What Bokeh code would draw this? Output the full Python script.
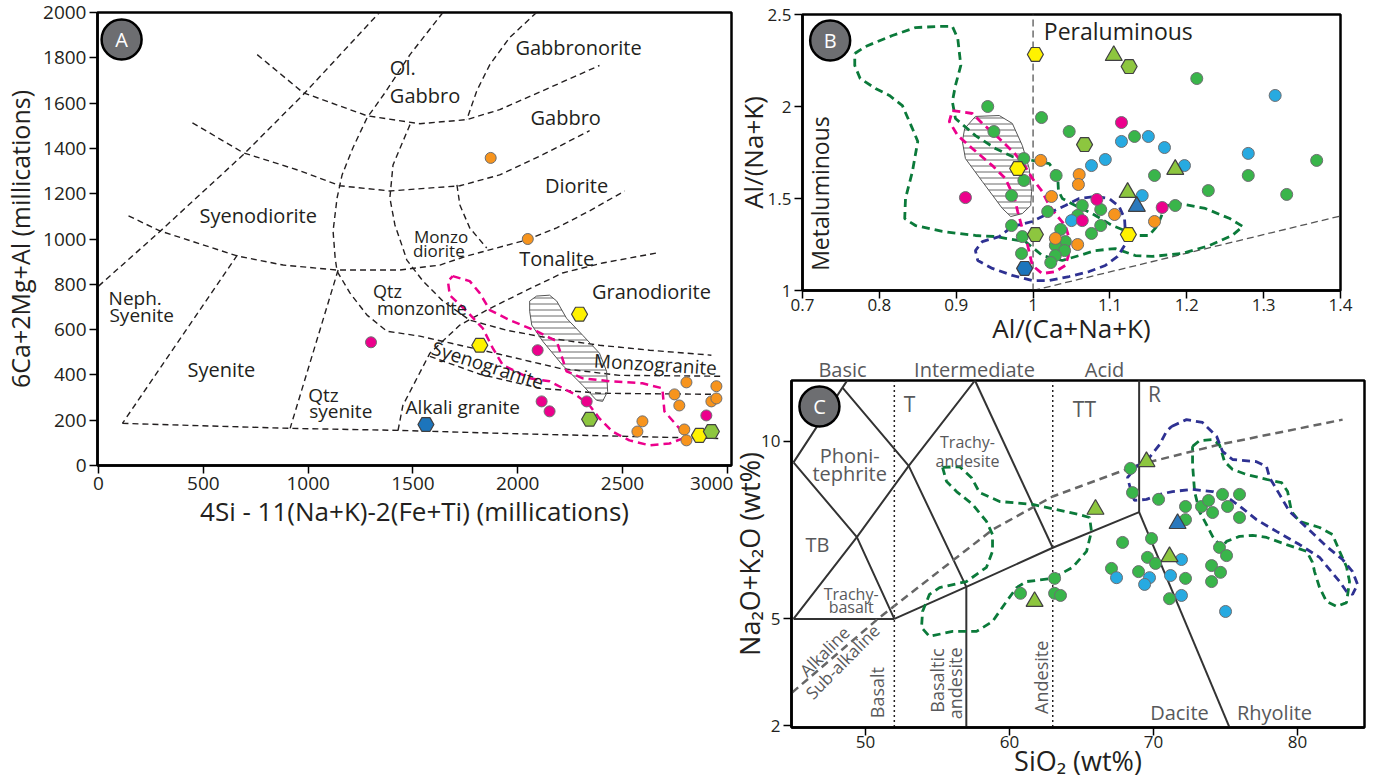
from math import pi
from bokeh.plotting import figure
from bokeh.layouts import row, column
from bokeh.models import Label, Range1d, FixedTicker, LinearAxis
from bokeh.embed import file_html
from bokeh.resources import INLINE

FONT = "Open Sans"
INK = "#231f20"
GTXT = "#58595b"
ORANGE = "#F7941D"; MAGENTA = "#EC008C"; YELLOW = "#FFF200"; LIME = "#8DC63F"
BLUEHEX = "#1C75BC"; GREEN = "#39B54A"; CYAN = "#27AAE1"; BLUETRI = "#2B79BD"
DKGREEN = "#0B7A3A"; NAVY = "#2E3192"

# ================= Panel A data (R1-R2 diagram, millications) =================
A_orange_x = [1871, 2048, 2805, 2948, 2748, 2771, 2924, 2948, 2595, 2571, 2795, 2805]
A_orange_y = [1358, 1000, 367, 350, 314, 265, 283, 296, 195, 150, 159, 111]
A_magenta_x = [1300, 2095, 2114, 2152, 2329, 2900]
A_magenta_y = [544, 509, 283, 239, 283, 221]
A_yellow_x = [2295, 1819, 2867]
A_yellow_y = [668, 531, 133]
A_lime_x = [2343, 2924]
A_lime_y = [204, 150]
A_blue_x = [1562]
A_blue_y = [181]

A_L1_x = [0, 295, 690, 976, 1340]
A_L1_y = [792, 1035, 1372, 1637, 2000]
A_L2_x = [757, 976, 1281, 1533, 1757, 1914, 2152, 2390]
A_L2_y = [1814, 1646, 1544, 1509, 1527, 1571, 1668, 1766]
A_L3_x = [448, 690, 962, 1152, 1390, 1724, 1914, 2119, 2343]
A_L3_y = [1513, 1381, 1301, 1235, 1212, 1235, 1283, 1372, 1478]
A_L4_x = [143, 295, 662, 881, 1138, 1438, 1629, 1757, 2043, 2186, 2343, 2510]
A_L4_y = [1102, 1035, 925, 885, 863, 863, 885, 925, 996, 1049, 1124, 1212]
A_L7_x = [1710, 1724, 1771, 1852]
A_L7_y = [1239, 1150, 1049, 960]
A_L8_x = [1486, 1405, 1390, 1414, 1452, 1471, 1548, 1643, 1771, 1948, 2152, 2390, 2629, 2924]
A_L8_y = [1505, 1327, 1181, 1062, 960, 907, 814, 726, 642, 597, 562, 531, 509, 487]
A_L9_x = [2090, 1962, 1867, 1805, 1757]
A_L9_y = [2000, 1890, 1770, 1655, 1527]
A_L10_x = [1643, 1486, 1367, 1281, 1214, 1162, 1138, 1119, 1129, 1138, 1200, 1281, 1376, 1533, 1724, 1914, 2200, 2486, 2976]
A_L10_y = [2000, 1814, 1646, 1535, 1403, 1283, 1181, 1035, 916, 858, 761, 664, 593, 571, 531, 491, 429, 398, 394]
A_R_x = [1581, 1819, 2105, 2390, 2962]
A_R_y = [482, 403, 341, 319, 314]
A_L11_x = [1429, 1452, 1519, 1581, 1724, 1852, 2043, 2214, 2405, 2662]
A_L11_y = [155, 265, 385, 496, 620, 686, 774, 850, 894, 938]
A_QS_x = [1143, 914]
A_QS_y = [863, 164]
A_SN_x = [662, 114]
A_SN_y = [929, 186]
A_base_x = [114, 914, 1438, 1914, 2962]
A_base_y = [186, 164, 155, 142, 119]

A_pink_x = [1690, 1771, 1819, 1867, 1962, 2090, 2186, 2233, 2310, 2438, 2595, 2690, 2700, 2771, 2786,
            2724, 2629, 2533, 2452, 2390, 2343, 2281, 2152, 2057, 1929, 1881, 1833, 1757, 1676, 1667, 1690]
A_pink_y = [836, 814, 761, 686, 642, 593, 549, 416, 385, 372, 363, 341, 239, 164, 119,
            97, 89, 111, 150, 208, 265, 310, 372, 385, 443, 518, 606, 681, 752, 814, 836]
A_hatch_x = [2057, 2090, 2152, 2186, 2233, 2310, 2390, 2424, 2429, 2405, 2376, 2310, 2214, 2119, 2067, 2057]
A_hatch_y = [726, 748, 752, 726, 650, 575, 496, 416, 327, 283, 288, 354, 443, 549, 620, 681]

# centred field names
A_text = ["Gabbronorite", "Gabbro", "Diorite", "Syenodiorite", "Tonalite", "Granodiorite", "Syenite",
          "Alkali granite"]
A_text_x = [2290, 2229, 2281, 762, 2186, 2638, 586, 1738]
A_text_y = [1845, 1535, 1235, 1102, 915, 770, 425, 257]
A_text_size = [20, 20, 20, 20, 20, 20, 20, 19]
# left-aligned two-line field names
A_left_text = ["Ol.", "Gabbro", "Monzo", "diorite", "Neph.", "Syenite", "Qtz", "monzonite", "Qtz", "syenite"]
A_left_x = [1390, 1390, 1505, 1500, 48, 52, 1310, 1328, 1000, 1005]
A_left_y = [1757, 1633, 1013, 951, 739, 664, 770, 695, 310, 239]
A_left_size = [20, 20, 17, 17, 19, 19, 18, 18, 19, 19]
A_rot_text = ["Syenogranite", "Monzogranite"]
A_rot_x = [1857, 2657]
A_rot_y = [443, 447]
A_rot_angle = [-0.31, -0.06]

# ================= Panel B data (A/NK vs A/CNK) =================
B_green_x = [0.941, 1.011, 0.949, 1.047, 0.988, 0.988, 1.030, 0.972, 1.019, 1.064, 1.088, 1.058, 0.972, 1.088,
             1.076, 1.036, 0.986, 1.042, 1.029, 1.041, 1.029, 1.023, 0.985, 1.132, 1.158, 1.280, 1.213, 1.369,
             1.228, 1.330, 1.185]
B_green_y = [2.000, 1.940, 1.864, 1.864, 1.717, 1.598, 1.625, 1.516, 1.429, 1.462, 1.440, 1.408, 1.353, 1.353,
             1.310, 1.332, 1.293, 1.266, 1.245, 1.217, 1.190, 1.152, 1.201, 1.837, 1.625, 1.625, 2.152, 1.707,
             1.543, 1.522, 1.462]
B_cyan_x = [1.115, 1.094, 1.076, 1.050, 1.150, 1.171, 1.280, 1.197, 1.142, 1.315]
B_cyan_y = [1.810, 1.712, 1.679, 1.380, 1.837, 1.777, 1.745, 1.679, 1.516, 2.060]
B_orange_x = [1.010, 1.024, 1.029, 1.060, 1.059, 1.106, 1.058, 1.158]
B_orange_y = [1.707, 1.511, 1.283, 1.630, 1.576, 1.413, 1.250, 1.375]
B_magenta_x = [0.912, 1.115, 1.083, 1.064, 1.168]
B_magenta_y = [1.505, 1.913, 1.495, 1.380, 1.451]
B_yellow_x = [1.003, 0.980, 1.124]
B_yellow_y = [2.283, 1.663, 1.304]
B_lime_hex_x = [1.003, 1.067, 1.125]
B_lime_hex_y = [1.304, 1.793, 2.217]
B_blue_hex_x = [0.989]
B_blue_hex_y = [1.120]
B_lime_tri_x = [1.105, 1.123, 1.185]
B_lime_tri_y = [2.277, 1.533, 1.658]
B_blue_tri_x = [1.135]
B_blue_tri_y = [1.457]

B_gc_x = [0.768, 0.782, 0.817, 0.847, 0.878, 0.895, 0.902, 0.906, 0.899, 0.895, 0.899, 0.925, 0.951, 0.973,
          0.999, 1.021, 1.032, 1.033, 1.038, 1.055, 1.077, 1.103, 1.119, 1.136, 1.151, 1.162, 1.172, 1.184,
          1.198, 1.224, 1.256, 1.273, 1.259, 1.230, 1.194, 1.155, 1.133, 1.107, 1.081, 1.060, 1.038, 1.012,
          0.990, 0.951, 0.925, 0.882, 0.847, 0.833, 0.834, 0.843, 0.850, 0.843, 0.830, 0.813, 0.795, 0.775,
          0.768, 0.768]
B_gc_y = [2.288, 2.326, 2.386, 2.429, 2.435, 2.435, 2.370, 2.223, 2.114, 2.027, 1.935, 1.842, 1.772, 1.728,
          1.707, 1.690, 1.625, 1.543, 1.500, 1.462, 1.418, 1.353, 1.326, 1.299, 1.299, 1.353, 1.457, 1.473,
          1.467, 1.446, 1.391, 1.348, 1.299, 1.245, 1.201, 1.185, 1.190, 1.228, 1.217, 1.190, 1.163, 1.190,
          1.266, 1.293, 1.299, 1.321, 1.353, 1.391, 1.500, 1.647, 1.810, 1.880, 2.005, 2.060, 2.098, 2.152,
          2.223, 2.288]
B_pc_x = [0.895, 0.921, 0.934, 0.956, 0.976, 0.989, 0.999, 1.012, 1.021, 1.032, 1.042, 1.047, 1.046, 1.042,
          1.029, 1.012, 0.999, 0.993, 0.986, 0.980, 0.976, 0.964, 0.947, 0.921, 0.902, 0.891, 0.895]
B_pc_y = [1.978, 1.962, 1.908, 1.826, 1.745, 1.679, 1.609, 1.538, 1.462, 1.402, 1.353, 1.283, 1.190, 1.136,
          1.103, 1.092, 1.136, 1.245, 1.337, 1.429, 1.500, 1.609, 1.679, 1.772, 1.842, 1.918, 1.978]
B_nc_x = [0.973, 0.999, 1.025, 1.042, 1.060, 1.081, 1.099, 1.112, 1.119, 1.120, 1.119, 1.110, 1.094, 1.073,
          1.047, 1.021, 0.999, 0.973, 0.947, 0.928, 0.925, 0.934, 0.956, 0.973]
B_nc_y = [1.348, 1.375, 1.429, 1.462, 1.500, 1.511, 1.500, 1.457, 1.391, 1.321, 1.245, 1.185, 1.136, 1.103,
          1.076, 1.054, 1.054, 1.082, 1.120, 1.163, 1.217, 1.266, 1.293, 1.348]
B_hatch_x = [0.911, 0.925, 0.956, 0.973, 0.986, 0.995, 0.998, 0.997, 0.986, 0.971, 0.960, 0.934, 0.912, 0.908]
B_hatch_y = [1.880, 1.946, 1.951, 1.908, 1.788, 1.663, 1.538, 1.462, 1.418, 1.402, 1.446, 1.592, 1.717, 1.810]
B_div_x = [1.0, 1.0]
B_div_y = [1.0, 2.5]
B_diag_x = [1.0, 1.4]
B_diag_y = [1.0, 1.405]

# ================= Panel C data (TAS) =================
C_green_x = [68.40, 68.54, 70.35, 72.22, 72.22, 73.33, 73.82, 74.10, 74.79, 75.14, 75.97, 75.97, 67.85, 69.86,
             69.58, 70.14, 67.08, 68.96, 74.58, 75.07, 74.03, 74.65, 72.22, 74.03, 71.11, 63.13, 60.76, 63.13, 63.54]
C_green_y = [9.23, 8.55, 8.36, 8.16, 7.79, 8.16, 8.33, 7.99, 8.50, 8.16, 8.50, 7.85, 7.15, 7.26,
             6.73, 6.56, 6.42, 6.33, 7.01, 6.78, 6.50, 6.31, 6.14, 6.05, 5.57, 6.14, 5.72, 5.72, 5.66]
C_cyan_x = [67.43, 69.72, 69.38, 71.18, 71.94, 71.94, 75.00]
C_cyan_y = [6.16, 6.16, 5.97, 6.22, 6.67, 5.66, 5.21]
C_lime_tri_x = [69.51, 65.97, 71.11, 61.74]
C_lime_tri_y = [9.42, 8.08, 6.75, 5.49]
C_blue_tri_x = [71.67]
C_blue_tri_y = [7.68]

C_gl_x = [55.35, 56.53, 57.36, 57.92, 59.31, 61.60, 64.86, 65.56, 65.69, 65.35, 64.38, 62.99, 61.18, 60.49,
          59.79, 58.82, 57.71, 56.04, 54.44, 53.89, 53.96, 54.44, 55.14, 57.01, 58.40, 58.82, 58.82, 58.40,
          57.43, 56.32, 55.63, 55.35]
C_gl_y = [9.26, 9.28, 8.97, 8.55, 8.30, 8.22, 7.93, 7.85, 7.46, 6.90, 6.45, 6.14, 6.05, 5.88,
          5.49, 4.93, 4.65, 4.65, 4.51, 4.76, 5.21, 5.69, 5.88, 6.05, 6.45, 6.90, 7.37, 7.74,
          8.22, 8.58, 8.86, 9.26]
C_gr_x = [72.71, 73.19, 74.10, 74.58, 74.93, 75.49, 76.46, 77.85, 78.89, 79.31, 79.58, 80.14, 81.53, 82.43,
          82.92, 83.40, 83.61, 83.40, 82.71, 82.01, 81.53, 81.18, 81.04, 80.63, 79.24, 77.85, 76.88, 75.97,
          75.07, 74.72, 74.10, 73.68, 73.19, 72.85, 72.71, 72.71]
C_gr_y = [9.85, 10.01, 10.04, 9.90, 9.42, 9.20, 9.06, 8.92, 8.83, 8.58, 8.02, 7.74, 7.57, 7.37,
          6.90, 6.47, 6.05, 5.46, 5.35, 5.49, 5.88, 6.33, 6.59, 6.90, 7.09, 7.29, 7.35, 7.32,
          7.18, 7.01, 7.32, 7.65, 8.02, 8.58, 9.34, 9.85]
C_nv_x = [71.25, 72.29, 73.40, 74.38, 74.79, 75.49, 77.15, 77.85, 78.06, 78.75, 79.44, 80.63, 82.01, 83.13,
          83.82, 84.17, 83.82, 83.40, 82.92, 81.53, 80.14, 78.54, 77.15, 76.11, 75.07, 74.10, 72.71, 71.32,
          70.42, 69.51, 68.68, 68.47, 68.19, 68.82, 69.72, 70.42, 70.90, 71.25]
C_nv_y = [10.41, 10.60, 10.52, 10.13, 9.71, 9.48, 9.42, 9.28, 8.97, 8.50, 8.02, 7.57, 7.04, 6.67,
          6.33, 5.97, 5.69, 5.77, 6.05, 6.73, 7.09, 7.46, 7.79, 8.13, 8.44, 8.58, 8.64, 8.58,
          8.50, 8.36, 8.33, 8.55, 8.97, 9.28, 9.54, 9.90, 10.27, 10.41]
C_alk_x = [44.9, 50.97, 58.82, 62.99, 69.03, 74.58, 83.13]
C_alk_y = [2.93, 5.04, 7.51, 8.44, 9.34, 9.90, 10.60]

# TAS field boundaries (Le Bas et al. 1986)
C_solid_x = [[45, 52], [52, 57, 63, 69], [57, 57], [69, 77.3], [69, 69], [45, 49.4, 53, 57.6],
             [45, 48.4, 52.5], [45, 49.4, 52], [48.4, 53, 57], [57.6, 63]]
C_solid_y = [[5, 5], [5, 5.9, 7, 8], [0, 5.9], [8, 0], [8, 14], [5, 7.3, 9.3, 11.7],
             [9.4, 11.5, 14], [9.4, 7.3, 5], [11.5, 9.3, 5.9], [11.7, 7]]
C_dot_x = [[52, 52], [63, 63]]
C_dot_y = [[0, 14], [0, 14]]

C_top_text = ["Basic", "Intermediate", "Acid"]
C_top_x = [48.4, 57.57, 66.6]

C_text = ["T", "TT", "R", "Phoni-", "tephrite", "Trachy-", "andesite", "TB", "Trachy-", "basalt", "Dacite", "Rhyolite"]
C_text_x = [53.06, 65.2, 70.07, 48.9, 48.9, 57.08, 57.08, 46.67, 49.0, 49.0, 71.8, 78.4]
C_text_y = [11.03, 10.9, 11.31, 9.60, 9.10, 9.96, 9.44, 7.09, 5.69, 5.33, 2.37, 2.37]
C_text_size = [21, 21, 21, 20, 20, 16, 16, 20, 16, 16, 20, 20]
C_rot_text = ["Alkaline", "Sub-alkaline", "Basalt", "Basaltic", "andesite", "Andesite"]
C_rot_x = [47.15, 48.4, 50.83, 54.93, 56.18, 62.22]
C_rot_y = [4.09, 3.80, 2.93, 3.27, 3.19, 3.36]
C_rot_angle = [0.79, 0.79, pi / 2, pi / 2, pi / 2, pi / 2]
C_rot_size = [17, 17, 18, 18, 18, 18]


# ================= figures =================
def style(p, tick_size, label_size):
    p.grid.visible = False
    p.outline_line_color = "black"
    p.outline_line_width = 2.5
    for ax in p.axis:
        ax.axis_line_color = "black"
        ax.axis_line_width = 2.5
        ax.major_tick_line_color = "black"
        ax.major_tick_line_width = 1.5
        ax.major_tick_out = 8
        ax.major_tick_in = 0
        ax.minor_tick_line_color = None
        ax.major_label_text_font = FONT
        ax.major_label_text_font_size = f"{tick_size}px"
        ax.major_label_text_color = INK
        ax.axis_label_text_font = FONT
        ax.axis_label_text_font_style = "normal"
        ax.axis_label_text_font_size = f"{label_size}px"
        ax.axis_label_text_color = INK
        ax.major_label_standoff = 3
        ax.axis_label_standoff = 3


def lab(p, x, y, text, size=18, color=INK, angle=0.0, align="center"):
    p.add_layout(Label(x=x, y=y, text=text, text_font=FONT, text_font_size=f"{size}px",
                       text_color=color, angle=angle, text_align=align, text_baseline="middle"))


def badge(p, x, y, letter):
    p.scatter([x], [y], size=40, fill_color="#6d6e71", line_color="black", line_width=2.5)
    lab(p, x, y, letter, size=20, color="white")


# ---------- Panel A ----------
pA = figure(frame_width=634, frame_height=453, x_range=Range1d(-5, 3020), y_range=Range1d(0, 2000),
            output_backend="svg", toolbar_location=None,
            min_border_left=90, min_border_right=2, min_border_top=12, min_border_bottom=68)
style(pA, 19, 25)
pA.xaxis.axis_label_text_font_size = "26px"
pA.xaxis.axis_label_standoff = 0
pA.xaxis.ticker = FixedTicker(ticks=[0, 500, 1000, 1500, 2000, 2500, 3000])
pA.yaxis.ticker = FixedTicker(ticks=list(range(0, 2001, 200)))
pA.xaxis.axis_label = "4Si - 11(Na+K)-2(Fe+Ti) (millications)"
pA.yaxis.axis_label = "6Ca+2Mg+Al (millications)"

for lx, ly in [(A_L1_x, A_L1_y), (A_L2_x, A_L2_y), (A_L3_x, A_L3_y), (A_L4_x, A_L4_y), (A_L7_x, A_L7_y),
               (A_L8_x, A_L8_y), (A_L9_x, A_L9_y), (A_L10_x, A_L10_y), (A_R_x, A_R_y), (A_L11_x, A_L11_y),
               (A_QS_x, A_QS_y), (A_SN_x, A_SN_y), (A_base_x, A_base_y)]:
    pA.line(lx, ly, line_color="#231f20", line_width=1.4, line_dash="6 4")

pA.patch(A_hatch_x, A_hatch_y, fill_color="white", fill_alpha=0.0, hatch_pattern="horizontal_line",
         hatch_color="#444444", hatch_scale=6, hatch_weight=0.8, line_color="#555555", line_width=1)
pA.line(A_pink_x, A_pink_y, line_color=MAGENTA, line_width=2.5, line_dash="8 5")

for t, x, y, s in zip(A_text, A_text_x, A_text_y, A_text_size):
    lab(pA, x, y, t, size=s)
for t, x, y, s in zip(A_left_text, A_left_x, A_left_y, A_left_size):
    lab(pA, x, y, t, size=s, align="left")
for t, x, y, a in zip(A_rot_text, A_rot_x, A_rot_y, A_rot_angle):
    lab(pA, x, y, t, size=19, angle=a)

pA.scatter(A_orange_x, A_orange_y, size=11, fill_color=ORANGE, line_color="#6d6e71", line_width=1)
pA.scatter(A_magenta_x, A_magenta_y, size=11, fill_color=MAGENTA, line_color="#6d6e71", line_width=1)
pA.scatter(A_yellow_x, A_yellow_y, marker="hex", size=16, fill_color=YELLOW, line_color="#414042", line_width=1.2)
pA.scatter(A_lime_x, A_lime_y, marker="hex", size=16, fill_color=LIME, line_color="#414042", line_width=1.2)
pA.scatter(A_blue_x, A_blue_y, marker="hex", size=16, fill_color=BLUEHEX, line_color="#414042", line_width=1.2)
badge(pA, 110, 1881, "A")

# ---------- Panel B ----------
pB = figure(frame_width=538, frame_height=276, x_range=Range1d(0.7, 1.4), y_range=Range1d(1.0, 2.5),
            output_backend="svg", toolbar_location=None,
            min_border_left=90, min_border_right=20, min_border_top=14, min_border_bottom=40)
pB.border_fill_color = None
pB.styles = {"position": "relative", "left": "-21px"}
style(pB, 17, 26)
pB.xaxis.major_label_standoff = 0
pB.xaxis.axis_label_standoff = -4
pB.yaxis.axis_label_standoff = -6
pB.xaxis.ticker = FixedTicker(ticks=[0.7, 0.8, 0.9, 1.0, 1.1, 1.2, 1.3, 1.4])
pB.yaxis.ticker = FixedTicker(ticks=[1.0, 1.5, 2.0, 2.5])
pB.yaxis.major_label_overrides = {1: "1", 1.5: "1.5", 2: "2", 2.5: "2.5"}
pB.xaxis.axis_label = "Al/(Ca+Na+K)"
pB.yaxis.axis_label = "Al/(Na+K)"

pB.line(B_div_x, B_div_y, line_color="#555555", line_width=1.3, line_dash="7 4")
pB.line(B_diag_x, B_diag_y, line_color="#555555", line_width=1.3, line_dash="7 4")
pB.patch(B_hatch_x, B_hatch_y, fill_color="white", fill_alpha=0.0, hatch_pattern="horizontal_line",
         hatch_color="#444444", hatch_scale=6, hatch_weight=0.8, line_color="#555555", line_width=1)
pB.line(B_gc_x, B_gc_y, line_color=DKGREEN, line_width=2.8, line_dash="8 5")
pB.line(B_pc_x, B_pc_y, line_color=MAGENTA, line_width=2.8, line_dash="8 5")
pB.line(B_nc_x, B_nc_y, line_color=NAVY, line_width=2.8, line_dash="8 5")

pB.scatter(B_green_x, B_green_y, size=12, fill_color=GREEN, line_color="#6d6e71", line_width=1)
pB.scatter(B_cyan_x, B_cyan_y, size=12, fill_color=CYAN, line_color="#6d6e71", line_width=1)
pB.scatter(B_orange_x, B_orange_y, size=12, fill_color=ORANGE, line_color="#6d6e71", line_width=1)
pB.scatter(B_magenta_x, B_magenta_y, size=12, fill_color=MAGENTA, line_color="#6d6e71", line_width=1)
pB.scatter(B_yellow_x, B_yellow_y, marker="hex", size=16, fill_color=YELLOW, line_color="#414042", line_width=1.2)
pB.scatter(B_lime_hex_x, B_lime_hex_y, marker="hex", size=16, fill_color=LIME, line_color="#414042", line_width=1.2)
pB.scatter(B_blue_hex_x, B_blue_hex_y, marker="hex", size=16, fill_color=BLUEHEX, line_color="#414042", line_width=1.2)
pB.scatter(B_lime_tri_x, B_lime_tri_y, marker="triangle", size=17, fill_color=LIME, line_color="#414042", line_width=1.2)
pB.scatter(B_blue_tri_x, B_blue_tri_y, marker="triangle", size=17, fill_color=BLUETRI, line_color="#414042", line_width=1.2)

lab(pB, 1.014, 2.413, "Peraluminous", size=23, align="left")
lab(pB, 0.723, 1.527, "Metaluminous", size=23, angle=pi / 2)
badge(pB, 0.736, 2.359, "B")

# ---------- Panel C ----------
pC = figure(frame_width=573, frame_height=347, x_range=Range1d(44.86, 84.65), y_range=Range1d(1.95, 11.7),
            output_backend="svg", toolbar_location=None,
            min_border_left=90, min_border_right=2, min_border_top=10, min_border_bottom=40)
pC.border_fill_color = None
pC.styles = {"position": "relative", "left": "-32px", "top": "4px"}
style(pC, 17, 27)
pC.xaxis.major_label_standoff = 0
pC.xaxis.axis_label_standoff = -9
pC.yaxis.axis_label_standoff = -10
pC.xaxis.ticker = FixedTicker(ticks=[50, 60, 70, 80])
pC.yaxis.ticker = FixedTicker(ticks=[2, 5, 10])
pC.xaxis.axis_label = "SiO₂ (wt%)"
pC.yaxis.axis_label = "Na₂O+K₂O (wt%)"

top_ax = LinearAxis(ticker=FixedTicker(ticks=C_top_x),
                    major_label_overrides={x: t for x, t in zip(C_top_x, C_top_text)},
                    axis_line_color=None, major_tick_line_color=None, minor_tick_line_color=None,
                    major_tick_out=0, major_tick_in=0,
                    major_label_text_color=GTXT, major_label_text_font=FONT,
                    major_label_text_font_size="20px", major_label_standoff=-2)
pC.add_layout(top_ax, "above")

for lx, ly in zip(C_dot_x, C_dot_y):
    pC.line(lx, ly, line_color="#231f20", line_width=1.5, line_dash="2 3")
for lx, ly in zip(C_solid_x, C_solid_y):
    pC.line(lx, ly, line_color="#333333", line_width=2)
pC.line(C_alk_x, C_alk_y, line_color="#666666", line_width=2.5, line_dash="8 5")
pC.line(C_gl_x, C_gl_y, line_color=DKGREEN, line_width=2.8, line_dash="8 5")
pC.line(C_gr_x, C_gr_y, line_color=DKGREEN, line_width=2.8, line_dash="8 5")
pC.line(C_nv_x, C_nv_y, line_color=NAVY, line_width=2.8, line_dash="8 5")

pC.scatter(C_green_x, C_green_y, size=12, fill_color=GREEN, line_color="#6d6e71", line_width=1)
pC.scatter(C_cyan_x, C_cyan_y, size=12, fill_color=CYAN, line_color="#6d6e71", line_width=1)
pC.scatter(C_lime_tri_x, C_lime_tri_y, marker="triangle", size=17, fill_color=LIME, line_color="#414042", line_width=1.2)
pC.scatter(C_blue_tri_x, C_blue_tri_y, marker="triangle", size=17, fill_color=BLUETRI, line_color="#414042", line_width=1.2)

for t, x, y, s in zip(C_text, C_text_x, C_text_y, C_text_size):
    lab(pC, x, y, t, size=s, color=GTXT)
for t, x, y, a, s in zip(C_rot_text, C_rot_x, C_rot_y, C_rot_angle, C_rot_size):
    lab(pC, x, y, t, size=s, color=GTXT, angle=a)

badge(pC, 46.8, 10.97, "C")

layout = row(pA, column(pB, pC, spacing=0), spacing=0)
open("out.html", "w").write(file_html(layout, INLINE))
